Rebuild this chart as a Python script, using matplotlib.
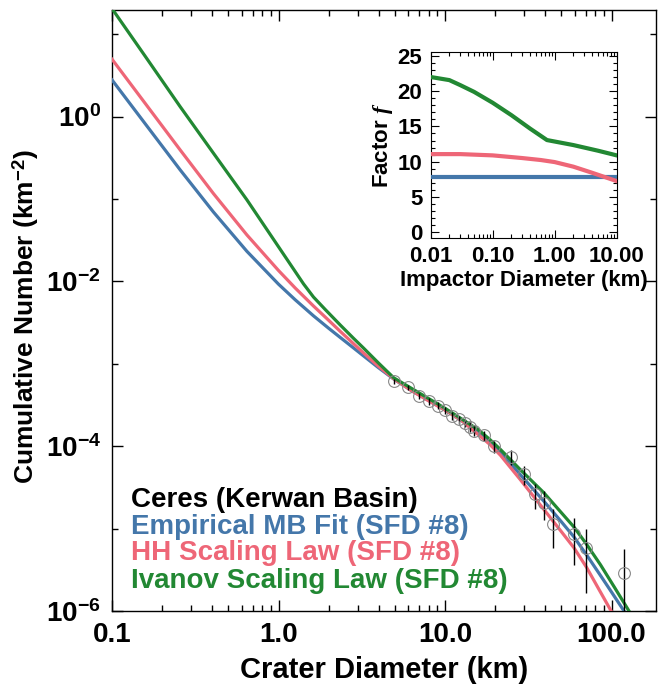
import numpy as np
import matplotlib
matplotlib.use("Agg")
import matplotlib.pyplot as plt
from matplotlib.ticker import FixedLocator, FixedFormatter, NullFormatter

plt.rcParams['font.family'] = ['Liberation Sans', 'DejaVu Sans']
plt.rcParams['font.weight'] = 'bold'
plt.rcParams['mathtext.fontset'] = 'custom'
plt.rcParams['mathtext.rm'] = 'Liberation Sans:bold'
plt.rcParams['mathtext.bf'] = 'Liberation Sans:bold'
plt.rcParams['mathtext.it'] = 'Liberation Serif:italic'

BLUE = '#4477AA'
RED = '#EE6677'
GREEN = '#228833'

# ---------------- main-panel data ----------------
crater_D = [4.96, 5.97, 6.95, 7.98, 9.09, 10.06, 11.03, 12.09, 13.14, 14.21, 15.03,
            17.09, 19.82, 24.98, 29.74, 34.48, 39.22, 44.4, 59.4, 69.8, 118.8]
crater_N = [6.14e-4, 5.19e-4, 4.12e-4, 3.51e-4, 3.11e-4, 2.73e-4, 2.35e-4, 2.11e-4,
            1.92e-4, 1.72e-4, 1.54e-4, 1.35e-4, 1.0e-4, 7.44e-5, 4.54e-5, 2.6e-5,
            2.06e-5, 1.15e-5, 8.5e-6, 5.75e-6, 2.86e-6]
crater_relerr = [0.068, 0.074, 0.083, 0.090, 0.096, 0.102, 0.110, 0.116, 0.122, 0.129,
                 0.136, 0.146, 0.169, 0.196, 0.25, 0.33, 0.38, 0.5, 0.58, 0.71, 1.0]

# model curves: log10(D [km]) -> log10(N [km^-2])
blue_logD = [-1.0, -0.8, -0.591, -0.391, -0.19, 0.0, 0.1, 0.21, 0.3, 0.371, 0.45, 0.511,
             0.6, 0.696, 0.8, 0.9, 1.0, 1.1, 1.2, 1.27, 1.333, 1.45, 1.5935, 1.7, 1.774,
             1.864, 1.934, 2.0, 2.075, 2.1]
blue_logN = [0.445, -0.089, -0.646, -1.158, -1.635, -2.034, -2.223, -2.418, -2.567, -2.681,
             -2.807, -2.905, -3.047, -3.191, -3.326, -3.443, -3.558, -3.69, -3.84, -3.95,
             -4.07, -4.34, -4.667, -4.92, -5.10, -5.36, -5.57, -5.77, -6.0, -6.08]

red_logD = [-1.0, -0.8, -0.591, -0.391, -0.19, 0.0, 0.1, 0.21, 0.3, 0.371, 0.45, 0.511,
            0.6, 0.696, 0.8, 0.9, 1.0, 1.1, 1.2, 1.27, 1.333, 1.45, 1.5935, 1.7, 1.774,
            1.85, 1.914, 1.995, 2.02]
red_logN = [0.696, 0.158, -0.404, -0.934, -1.436, -1.868, -2.08, -2.299, -2.47, -2.607,
            -2.755, -2.869, -3.03, -3.188, -3.328, -3.448, -3.563, -3.69, -3.86, -3.98,
            -4.11, -4.40, -4.767, -5.04, -5.232, -5.47, -5.70, -5.99, -6.08]

green_logD = [-1.0, -0.8, -0.591, -0.391, -0.19, 0.0, 0.1, 0.15, 0.21, 0.28, 0.371, 0.45,
              0.511, 0.6, 0.692, 0.8, 0.9, 1.0, 1.1, 1.2, 1.27, 1.333, 1.45, 1.5935, 1.774,
              1.85, 1.934, 2.02, 2.105, 2.13]
green_logN = [1.31, 0.73, 0.121, -0.444, -1.01, -1.58, -1.88, -2.03, -2.19, -2.34,
              -2.53, -2.69, -2.81, -2.99, -3.17, -3.30, -3.42, -3.54, -3.67, -3.80,
              -3.92, -4.04, -4.28, -4.565, -4.98, -5.19, -5.44, -5.72, -6.0, -6.08]

x_major = [0.1, 1.0, 10.0, 100.0]
x_major_labels = ['0.1', '1.0', '10.0', '100.0']
y_major_exp = [0, -2, -4, -6]
y_minor_exp = [1, -1, -3, -5]

legend_labels = ['Ceres (Kerwan Basin)', 'Empirical MB Fit (SFD #8)',
                 'HH Scaling Law (SFD #8)', 'Ivanov Scaling Law (SFD #8)']

# ---------------- inset data ----------------
inset_green_d = [0.01, 0.02, 0.03, 0.05, 0.1, 0.2, 0.4, 0.75, 2.0, 5.0, 10.0]
inset_green_f = [22.0, 21.56, 20.85, 19.9, 18.35, 16.6, 14.7, 13.07, 12.36, 11.56, 10.9]
inset_red_d = [0.01, 0.03, 0.1, 0.3, 0.6, 1.0, 2.0, 4.0, 10.0]
inset_red_f = [11.08, 11.08, 10.9, 10.52, 10.24, 9.95, 9.3, 8.44, 7.26]
inset_blue_d = [0.01, 10.0]
inset_blue_f = [7.9, 7.9]
inset_x_major = [0.01, 0.1, 1.0, 10.0]
inset_x_labels = ['0.01', '0.10', '1.00', '10.00']
inset_y_major = [0, 5, 10, 15, 20, 25]

W, H = 658, 687
fig = plt.figure(figsize=(W / 100, H / 100), dpi=100)

ax = fig.add_axes([112 / W, 1 - 611 / H, 544 / W, 601 / H])
ax.set_xscale('log')
ax.set_yscale('log')
ax.set_xlim(0.1, 185)
ax.set_ylim(1e-6, 10 ** 1.293)

for lD, lN, c, z in [(blue_logD, blue_logN, BLUE, 3), (red_logD, red_logN, RED, 4),
                     (green_logD, green_logN, GREEN, 5)]:
    ax.plot(10 ** np.array(lD), 10 ** np.array(lN), color=c, lw=2.3, zorder=z,
            solid_joinstyle='round')

cN = np.array(crater_N)
cE = np.array(crater_relerr)
lo = np.maximum(cN * (1 - cE), 1e-9)
hi = cN * (1 + cE)
ax.vlines(crater_D, lo, hi, color='black', lw=1.0, zorder=6)
ax.plot(crater_D, crater_N, 'o', ms=8.5, mfc='none', mec='#888888', mew=0.8, zorder=7)

ax.xaxis.set_major_locator(FixedLocator(x_major))
ax.xaxis.set_major_formatter(FixedFormatter(x_major_labels))
xm = [m * 10.0 ** e for e in range(-1, 3) for m in range(2, 10)]
ax.xaxis.set_minor_locator(FixedLocator(xm))
ax.xaxis.set_minor_formatter(NullFormatter())
ax.yaxis.set_major_locator(FixedLocator([10.0 ** e for e in y_major_exp]))
ax.yaxis.set_major_formatter(FixedFormatter([r'$\mathbf{10^{%d}}$' % e for e in y_major_exp]))
ax.yaxis.set_minor_locator(FixedLocator([10.0 ** e for e in y_minor_exp]))
ax.yaxis.set_minor_formatter(NullFormatter())
ax.tick_params(which='both', direction='in', top=True, right=True, labelsize=20, width=1.0)
ax.tick_params(which='major', length=8, pad=8)
ax.tick_params(which='minor', length=4)
for s in ax.spines.values():
    s.set_linewidth(1.0)
ax.set_xlabel('Crater Diameter (km)', fontsize=21, fontweight='bold')
ax.set_ylabel(r'Cumulative Number (km$^{\mathbf{-2}}$)', fontsize=19, fontweight='bold')
ax.xaxis.set_label_coords(0.5, -0.075)
ax.yaxis.set_label_coords(-0.13, 0.49)

leg_colors = ['black', BLUE, RED, GREEN]
leg_y = [506.7, 533.5, 560.5, 588]
for lab, c, yy in zip(legend_labels, leg_colors, leg_y):
    fig.text(131 / W, 1 - yy / H, lab, color=c, fontsize=20, fontweight='bold',
             va='baseline', ha='left')

# ---------------- inset ----------------
ins = fig.add_axes([430.7 / W, 1 - 237.7 / H, 186 / W, 185.4 / H])
ins.set_xscale('log')
ins.set_xlim(0.01, 10)
ins.set_ylim(-0.76, 25.5)
ins.plot(inset_blue_d, inset_blue_f, color=BLUE, lw=3, zorder=3)
ins.plot(inset_red_d, inset_red_f, color=RED, lw=3, zorder=4)
ins.plot(inset_green_d, inset_green_f, color=GREEN, lw=3, zorder=5)
ins.xaxis.set_major_locator(FixedLocator(inset_x_major))
ins.xaxis.set_major_formatter(FixedFormatter(inset_x_labels))
ixm = [m * 10.0 ** e for e in range(-2, 1) for m in range(2, 10)]
ins.xaxis.set_minor_locator(FixedLocator(ixm))
ins.xaxis.set_minor_formatter(NullFormatter())
ins.yaxis.set_major_locator(FixedLocator(inset_y_major))
ins.yaxis.set_minor_locator(FixedLocator(list(range(0, 26))))
ins.yaxis.set_minor_formatter(NullFormatter())
ins.tick_params(which='both', direction='in', top=True, right=True, labelsize=16, width=0.8)
ins.tick_params(which='major', length=6, pad=6)
ins.tick_params(which='minor', length=3)
ins.set_xlabel('Impactor Diameter (km)', fontsize=16, fontweight='bold', labelpad=2)
ins.set_ylabel(r'Factor $f$', fontsize=16, fontweight='bold', labelpad=2)

fig.savefig('out.png', dpi=100)
